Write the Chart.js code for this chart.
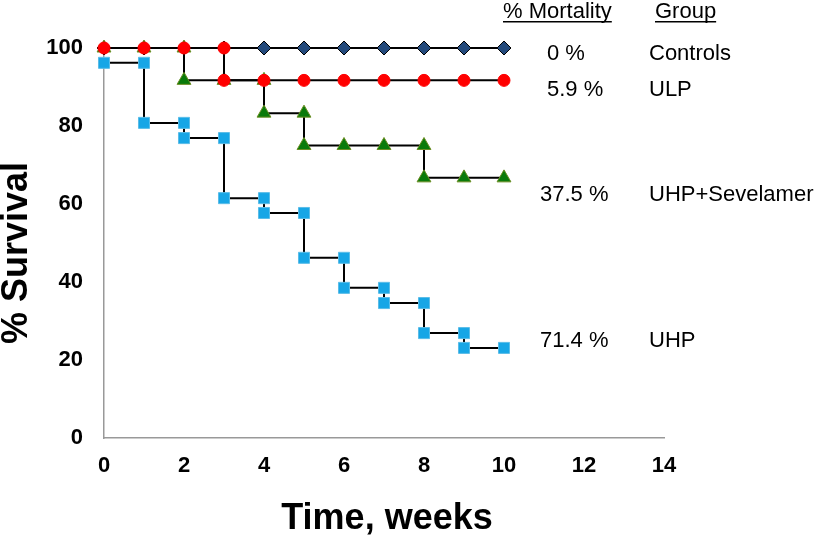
<!DOCTYPE html>
<html>
<head>
<meta charset="utf-8">
<script src="https://cdn.jsdelivr.net/npm/chart.js@4"></script>
<style>
  html, body { margin: 0; padding: 0; background: #fff; }
  #wrap { width: 825px; height: 539px; }
</style>
</head>
<body>
<div id="wrap"><canvas id="km"></canvas></div>
<script>
// weeks and % survival per group (each drop is listed twice: before and after)
const ctrlWeeks = [0,1,2,3,4,5,6,7,8,9,10]
const ctrlSurv  = [100,100,100,100,100,100,100,100,100,100,100]

const ulpWeeks = [0,1,2,3,3,4,5,6,7,8,9,10]
const ulpSurv  = [100,100,100,100,91.7,91.7,91.7,91.7,91.7,91.7,91.7,91.7]

const sevWeeks = [0,1,2,2,3,4,4,5,5,6,7,8,8,9,10]
const sevSurv  = [100,100,100,91.7,91.7,91.7,83.3,83.3,75,75,75,75,66.7,66.7,66.7]

const uhpWeeks = [0,1,1,2,2,3,3,4,4,5,5,6,6,7,7,8,8,9,9,10]
const uhpSurv  = [96.2,96.2,80.8,80.8,76.9,76.9,61.5,61.5,57.7,57.7,46.2,46.2,38.5,38.5,34.6,34.6,26.9,26.9,23.1,23.1]

const xTicks = [0,2,4,6,8,10,12,14]
const yTicks = [0,20,40,60,80,100]

// text to the right of the curves
const mortality = ['0 %', '5.9 %', '37.5 %', '71.4 %']
const groups = ['Controls', 'ULP', 'UHP+Sevelamer', 'UHP']

function pts(xs, ys) {
    return xs.map((x, i) => ({x: x, y: ys[i]}))
}

const data = {
    datasets: [
        {
            label: 'ULP',
            data: pts(ulpWeeks, ulpSurv),
            pointStyle: 'circle',
            pointRadius: 6,
            backgroundColor: '#ff0000',
            pointBorderColor: '#ff0000',
        },
        {
            label: 'UHP+Sevelamer',
            data: pts(sevWeeks, sevSurv),
            pointStyle: 'triangle',
            pointRadius: 8,
            backgroundColor: '#0a7a0a',
            pointBorderColor: '#6b8e23',
        },
        {
            label: 'Controls',
            data: pts(ctrlWeeks, ctrlSurv),
            pointStyle: 'rectRot',
            pointRadius: 7,
            backgroundColor: '#234a7c',
            pointBorderColor: '#000000',
        },
        {
            label: 'UHP',
            data: pts(uhpWeeks, uhpSurv),
            pointStyle: 'rect',
            pointRadius: 7.8,
            backgroundColor: '#17a6e6',
            pointBorderColor: '#5bbde8',
        },
    ],
}
data.datasets.forEach(d => {
    d.showLine = true
    d.borderColor = '#000000'
    d.borderWidth = 2
    d.pointBorderWidth = 1
    d.clip = false
})

const textPlugin = {
    id: 'sideText',
    afterDraw(chart) {
        const c = chart.ctx
        c.save()
        c.fillStyle = '#000'
        c.font = '22px "Liberation Sans", Arial, sans-serif'
        c.textBaseline = 'alphabetic'
        c.textAlign = 'left'
        // headers, underlined
        const heads = [['% Mortality', 503, 18], ['Group', 655, 18]]
        heads.forEach(h => {
            c.fillText(h[0], h[1], h[2])
            const w = c.measureText(h[0]).width
            c.fillRect(h[1], h[2] + 3, w, 1.5)
        })
        const rowY = [60, 96, 201, 347]
        const mx = [547, 547, 540, 540]
        for (let i = 0; i < groups.length; i++) {
            c.fillText(mortality[i], mx[i], rowY[i])
            c.fillText(groups[i], 649, rowY[i])
        }
        // axis titles
        c.font = 'bold 36px "Liberation Sans", Arial, sans-serif'
        c.textAlign = 'center'
        c.fillText('Time, weeks', 387, 529)
        c.translate(27, 253)
        c.rotate(-Math.PI / 2)
        c.fillText('% Survival', 0, 0)
        c.restore()
    }
}

const tickFont = { family: '"Liberation Sans", Arial', size: 22, weight: 'bold' }

const config = {
    type: 'scatter',
    data: data,
    options: {
        responsive: false,
        animation: false,
        layout: { padding: { top: 48, right: 161, left: 0, bottom: 0 } },
        plugins: { legend: { display: false }, tooltip: { enabled: false } },
        scales: {
            x: {
                type: 'linear',
                min: 0, max: 14,
                afterBuildTicks: s => { s.ticks = xTicks.map(v => ({value: v})) },
                afterFit: s => { s.height = 101 },
                grid: { display: false, drawTicks: true, tickLength: 6, tickColor: '#999' },
                border: { color: '#999', width: 1.5 },
                ticks: { color: '#000', padding: 9, font: tickFont },
            },
            y: {
                min: 0, max: 100,
                afterBuildTicks: s => { s.ticks = yTicks.map(v => ({value: v})) },
                afterFit: s => { s.width = 104 },
                grid: { display: false, drawTicks: true, tickLength: 6, tickColor: '#999' },
                border: { color: '#999', width: 1.5 },
                ticks: { color: '#000', padding: 15, font: tickFont },
            },
        },
    },
    plugins: [textPlugin],
}

const cv = document.getElementById('km')
cv.width = 825
cv.height = 539
const chart = new Chart(cv, config)
</script>
</body>
</html>
